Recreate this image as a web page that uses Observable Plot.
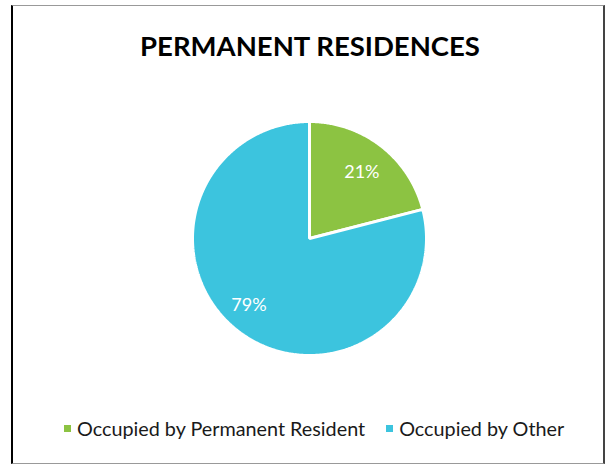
<!DOCTYPE html>
<html>
<head>
<meta charset="utf-8">
<script src="https://cdn.jsdelivr.net/npm/d3@7"></script>
<script src="https://cdn.jsdelivr.net/npm/@observablehq/plot@0.6"></script>
<style>
  html, body { margin: 0; padding: 0; background: #fff; }
  #wrap { position: relative; width: 607px; height: 465px; overflow: hidden; font-family: Lato, "Open Sans", sans-serif; }
  #frame { position: absolute; left: 11px; top: 5px; width: 590px; height: 457px;
           border-left: 2px solid #000; border-right: 2px solid #444;
           border-top: 1px solid #999; border-bottom: 1px solid #999; }
  #title { position: absolute; left: 0; width: 620px; top: 29px; text-align: center;
           font-weight: bold; font-size: 27.5px; color: #000; line-height: 34px; }
  #legend { position: absolute; top: 415px; left: 64px; display: flex;
            gap: 21px; font-size: 19.8px; color: #1a1a1a; line-height: 26px; }
  .item { display: flex; align-items: center; }
  .sw { width: 7px; height: 7px; margin-right: 6px; }
  #chart { position: absolute; left: 0; top: 0; }
</style>
</head>
<body>
<div id="wrap">
  <div id="chart"></div>
  <div id="frame"></div>
  <div id="title"></div>
  <div id="legend"></div>
</div>
<script>
const chartTitle = "PERMANENT RESIDENCES";
const categories = ["Occupied by Permanent Resident", "Occupied by Other"];
const values = [21, 79];
const labels = ["21%", "79%"];
const colors = ["#8CC342", "#3CC4DE"];

// Build slices (angles measured clockwise from 12 o'clock)
const total = d3.sum(values);
let acc = 0;
const slices = categories.map((c, i) => {
  const a0 = acc / total * 2 * Math.PI;
  acc += values[i];
  const a1 = acc / total * 2 * Math.PI;
  return {category: c, value: values[i], label: labels[i], a0, a1};
});
const wedgePts = [];
for (const s of slices) {
  wedgePts.push({category: s.category, x: 0, y: 0});
  const n = Math.max(2, Math.ceil((s.a1 - s.a0) / (Math.PI / 360)));
  for (let k = 0; k <= n; k++) {
    const a = s.a0 + (s.a1 - s.a0) * k / n;
    wedgePts.push({category: s.category, x: Math.sin(a), y: Math.cos(a)});
  }
}
const labelPts = slices.map(s => {
  const m = (s.a0 + s.a1) / 2;
  const r = s.value > 50 ? 0.76 : 0.73;
  return {label: s.label, x: r * Math.sin(m), y: r * Math.cos(m), big: s.value > 50};
});

const plot = Plot.plot({
  width: 607,
  height: 465,
  marginLeft: 192,
  marginRight: 181,
  marginTop: 121,
  marginBottom: 110,
  x: {domain: [-1, 1], axis: null},
  y: {domain: [-1, 1], axis: null},
  color: {domain: categories, range: colors},
  marks: [
    Plot.line(wedgePts, {x: "x", y: "y", z: "category", fill: "category",
      stroke: "white", strokeWidth: 3, strokeLinejoin: "miter", curve: "linear-closed"}),
    Plot.text(labelPts.filter(d => !d.big), {x: "x", y: "y", text: "label", fill: "white", dy: 1,
      fontSize: 18, fontFamily: "Lato, 'Open Sans', sans-serif"}),
    Plot.text(labelPts.filter(d => d.big), {x: "x", y: "y", text: "label", fill: "white", dx: -6, dy: -4,
      fontSize: 18, fontFamily: "Lato, 'Open Sans', sans-serif"})
  ]
});
document.getElementById("chart").appendChild(plot);

document.getElementById("title").textContent = chartTitle;
const legend = document.getElementById("legend");
categories.forEach((c, i) => {
  const item = document.createElement("div");
  item.className = "item";
  const sw = document.createElement("span");
  sw.className = "sw";
  sw.style.background = colors[i];
  const t = document.createElement("span");
  t.textContent = c;
  item.appendChild(sw);
  item.appendChild(t);
  legend.appendChild(item);
});
</script>
</body>
</html>
